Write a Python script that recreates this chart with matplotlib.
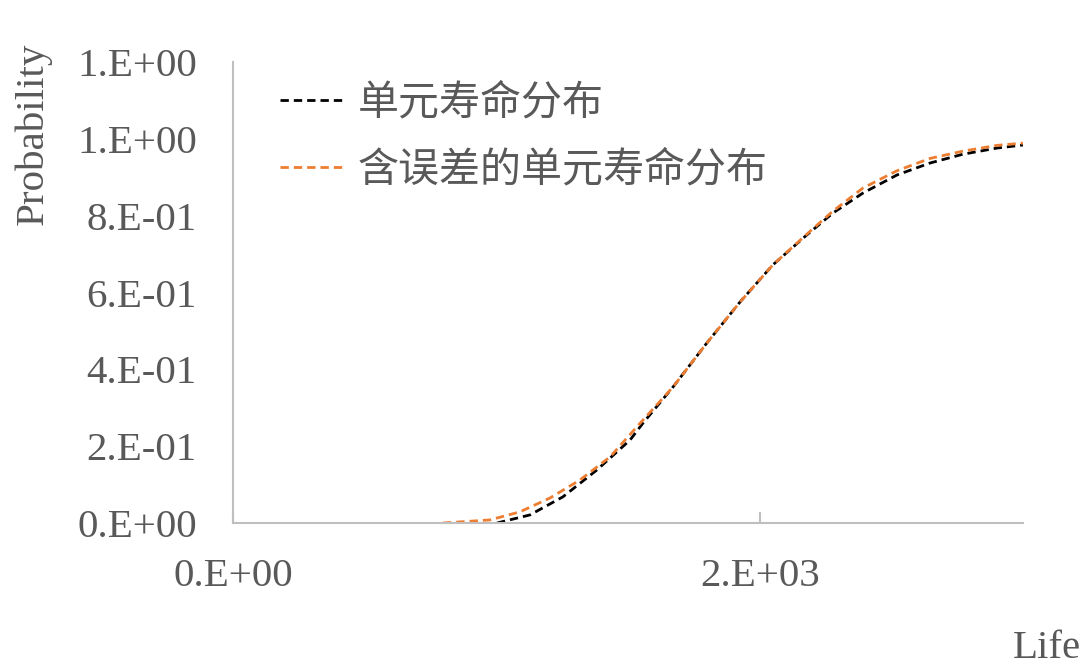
import matplotlib.pyplot as plt
from matplotlib.ticker import FixedLocator, FixedFormatter

plt.rcParams['font.family'] = ['Liberation Serif', 'Noto Sans CJK SC']

# unit life distribution (life, cumulative probability)
life_unit = [1002, 1127, 1252, 1381, 1507, 1556, 1670, 1799, 1924, 2049,
             2178, 2277, 2391, 2520, 2645, 2770, 2899, 2998]
prob_unit = [0.0, 0.021, 0.068, 0.138, 0.216, 0.260, 0.354, 0.469, 0.575, 0.672,
             0.750, 0.807, 0.859, 0.906, 0.937, 0.960, 0.976, 0.984]

# unit life distribution including error
life_err = [797, 975, 1089, 1203, 1317, 1431, 1556, 1670, 1799, 1924,
            2049, 2178, 2277, 2391, 2520, 2645, 2770, 2899, 2998]
prob_err = [0.0, 0.008, 0.029, 0.065, 0.112, 0.172, 0.268, 0.354, 0.469, 0.575,
            0.672, 0.752, 0.812, 0.872, 0.917, 0.949, 0.968, 0.983, 0.989]

labels = ['单元寿命分布', '含误差的单元寿命分布']

y_ticks = [0.0, 0.2, 0.4, 0.6, 0.8, 1.0, 1.2]
y_tick_labels = ['0.E+00', '2.E-01', '4.E-01', '6.E-01', '8.E-01', '1.E+00', '1.E+00']
x_ticks = [0, 2000]
x_tick_labels = ['0.E+00', '2.E+03']

text_color = '#595959'
axis_color = '#BFBFBF'
fs = 29.5

fig = plt.figure(figsize=(10.86, 6.70), dpi=100)
ax = fig.add_axes([0.2145, 0.2194, 0.7279, 0.688])

dash = (3.0, 1.8)
ax.plot(life_unit, prob_unit, color='black', lw=2.0, dashes=dash, label=labels[0])
ax.plot(life_err, prob_err, color='#ED7D31', lw=2.0, dashes=dash, label=labels[1])

ax.set_xlim(0, 3000)
ax.set_ylim(0, 1.2)

ax.yaxis.set_major_locator(FixedLocator(y_ticks))
ax.yaxis.set_major_formatter(FixedFormatter(y_tick_labels))
ax.xaxis.set_major_locator(FixedLocator(x_ticks))
ax.xaxis.set_major_formatter(FixedFormatter(x_tick_labels))

for side in ['top', 'right']:
    ax.spines[side].set_visible(False)
for side in ['left', 'bottom']:
    ax.spines[side].set_color(axis_color)
    ax.spines[side].set_linewidth(1.5)

ax.tick_params(axis='y', length=0, pad=26, labelsize=fs, labelcolor=text_color)
ax.tick_params(axis='x', direction='in', length=8, width=1.5, color=axis_color,
               pad=25, labelsize=fs, labelcolor=text_color)

fig.text(0.030, 0.80, 'Probability', rotation=90, ha='center', va='center',
         fontsize=fs, color=text_color)
fig.text(0.995, 0.005, 'Life', ha='right', va='bottom', fontsize=fs, color=text_color)

leg = ax.legend(loc='upper left', bbox_to_anchor=(0.028, 1.005), frameon=False,
                fontsize=fs, handlelength=1.6, handletextpad=0.3, labelspacing=0.7,
                borderaxespad=0.2)
for t in leg.get_texts():
    t.set_color(text_color)

fig.savefig('out.png', dpi=100)
